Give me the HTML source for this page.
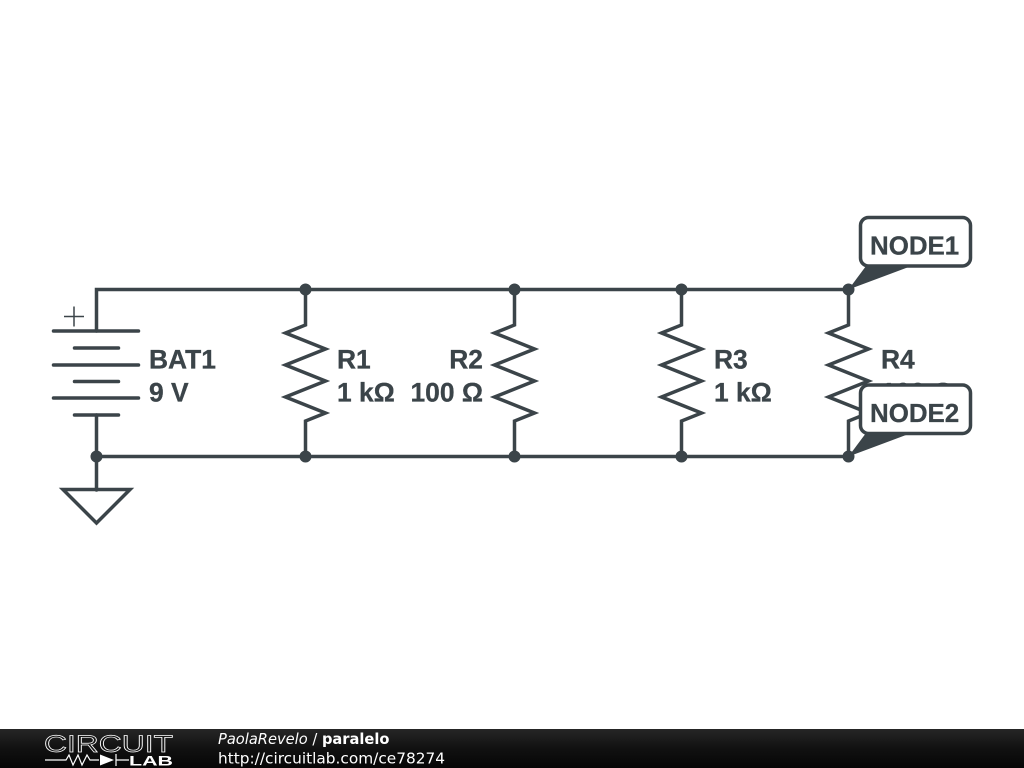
<!DOCTYPE html>
<html>
<head>
<meta charset="utf-8">
<style>
html,body{margin:0;padding:0;background:#fff;width:1024px;height:768px;overflow:hidden}
svg{display:block}
.t{font-family:"Liberation Sans",sans-serif;font-weight:700;font-size:26.400px;fill:#3b4449;stroke:#3b4449;stroke-width:0.300px}
.n{font-size:25.900px}
.f{font-family:"DejaVu Sans",sans-serif;fill:#fff}
</style>
</head>
<body>
<svg width="1024" height="768" viewBox="0 0 1024 768" xmlns="http://www.w3.org/2000/svg">
<defs>
<linearGradient id="g" x1="0" y1="0" x2="0" y2="1">
<stop offset="0" stop-color="#262626"/><stop offset="0.5" stop-color="#111"/><stop offset="1" stop-color="#060606"/>
</linearGradient>
</defs>
<rect width="1024" height="768" fill="#fff"/>
<g fill="none" stroke="#3b4449" stroke-width="3.500" stroke-linecap="round" stroke-linejoin="miter">
<path d="M96.500 331V289.500H848.500"/>
<path d="M96.500 415V490"/>
<path d="M96.500 456.500H848.500"/>
<path d="M53.500 331H138.500M74.500 348H118.500M53.500 365H138.500M74.500 381.500H118.500M53.500 398H138.500M74.500 415H118.500"/>
<path d="M63 489.500H130L96.500 523Z"/>
<path d="M305.500 289.500V325L285.500 333L325.500 349L285.500 365L325.500 381L285.500 397L325.500 413L305.500 421V456.500"/>
<path d="M514.500 289.500V325L494.500 333L534.500 349L494.500 365L534.500 381L494.500 397L534.500 413L514.500 421V456.500"/>
<path d="M681.500 289.500V325L661.500 333L701.500 349L661.500 365L701.500 381L661.500 397L701.500 413L681.500 421V456.500"/>
<path d="M848.500 289.500V325L828.500 333L868.500 349L828.500 365L868.500 381L828.500 397L868.500 413L848.500 421V456.500"/>
</g>
<path d="M64 316.500H84M74 306.500V326.500" stroke="#3b4449" stroke-width="1.500" fill="none"/>
<g fill="#3b4449">
<circle cx="96.500" cy="456.500" r="6"/>
<circle cx="305.500" cy="289.500" r="6"/><circle cx="514.500" cy="289.500" r="6"/><circle cx="681.500" cy="289.500" r="6"/><circle cx="848.500" cy="289.500" r="6"/>
<circle cx="305.500" cy="456.500" r="6"/><circle cx="514.500" cy="456.500" r="6"/><circle cx="681.500" cy="456.500" r="6"/><circle cx="848.500" cy="456.500" r="6"/>
</g>
<text class="t" x="149" y="368.500">BAT1</text>
<text class="t" x="149" y="401.500">9 V</text>
<text class="t" x="337" y="368.500">R1</text>
<text class="t" x="337" y="401.500">1 kΩ</text>
<text class="t" x="483" y="368.500" text-anchor="end">R2</text>
<text class="t" x="483" y="401.500" text-anchor="end">100 Ω</text>
<text class="t" x="714" y="368.500">R3</text>
<text class="t" x="714" y="401.500">1 kΩ</text>
<text class="t" x="881" y="368.500">R4</text>
<text class="t" x="881" y="401.500">100 Ω</text>

<path d="M848.500 289.500L869 262H922Z" fill="#3b4449"/>
<rect x="860.500" y="217.500" width="110" height="48.500" rx="8" fill="#fff" stroke="#3b4449" stroke-width="3.500"/>
<text class="t n" x="870" y="254.500">NODE1</text>
<path d="M848.500 456.500L869 429H922Z" fill="#3b4449"/>
<rect x="860.500" y="385" width="110" height="48.500" rx="8" fill="#fff" stroke="#3b4449" stroke-width="3.500"/>
<text class="t n" x="870" y="422">NODE2</text>

<rect x="0" y="729" width="1024" height="39" fill="url(#g)"/>
<text x="44" y="752" font-family="Liberation Sans,sans-serif" font-size="24" fill="#161616" stroke="#fff" stroke-width="0.700" textLength="129" lengthAdjust="spacingAndGlyphs">CIRCUIT</text>
<path d="M45 760H66L69 755L73 765L78 755L82 765L87 755L90 760H99M116 760H129M116 754V766" fill="none" stroke="#fff" stroke-width="1.200"/>
<path d="M100 754.500L114 760L100 765.500Z" fill="#fff"/>
<text x="129" y="765.500" font-family="Liberation Sans,sans-serif" font-weight="700" font-size="14" fill="#fff" textLength="44" lengthAdjust="spacingAndGlyphs">LAB</text>
<text class="f" x="218" y="744" font-size="14.650"><tspan font-style="italic">PaolaRevelo</tspan> / <tspan font-weight="700">paralelo</tspan></text>
<text class="f" x="218" y="763.500" font-size="15.350">http://circuitlab.com/ce78274</text>
</svg>
</body>
</html>
